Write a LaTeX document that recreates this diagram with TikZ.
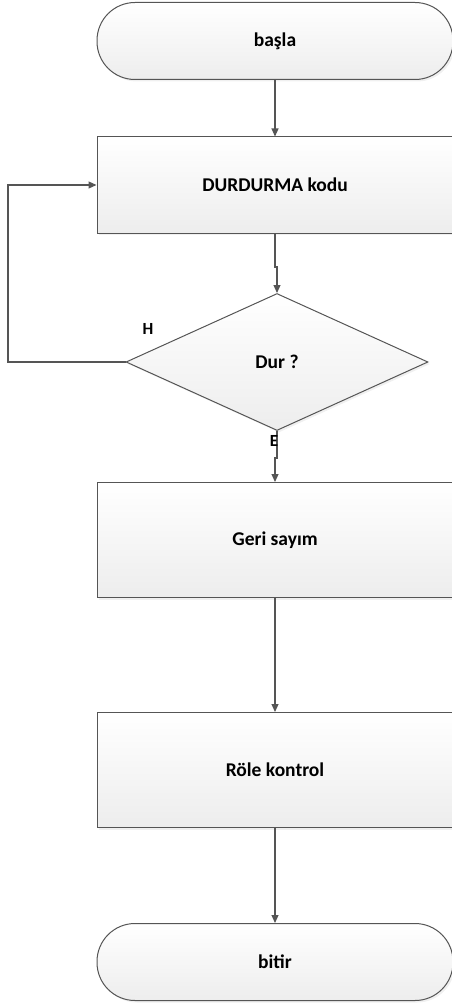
\documentclass[tikz,border=0pt]{standalone}
\usepackage{fontspec}
\setmainfont{Carlito}
\usetikzlibrary{shapes.geometric,arrows.meta,positioning,shadows}
\definecolor{Line}{HTML}{555555}
\definecolor{Shade}{HTML}{EDEDED}

\begin{document}
\begin{tikzpicture}[x=1pt,y=-1pt,
  every node/.style={font=\fontsize{19.5}{22}\selectfont\bfseries,align=center},
  boxfill/.style={draw=Line,line width=1pt,top color=white,bottom color=Shade,
    drop shadow={shadow xshift=2pt,shadow yshift=-2pt,opacity=0.12}},
  term/.style={boxfill,rectangle,rounded corners=38pt,minimum width=356pt,minimum height=77pt},
  proc/.style={boxfill,rectangle,minimum width=356pt,minimum height=96pt},
  proctall/.style={proc,minimum height=115pt},
  decide/.style={boxfill,diamond,aspect=2.2,inner sep=0pt,minimum width=302pt,minimum height=137pt},
  flow/.style={draw=Line,line width=1.1pt,-{Triangle[length=8pt,width=7pt]}},
  lbl/.style={font=\fontsize{17}{20}\selectfont\bfseries}]
  \useasboundingbox (0,0) rectangle (451,1003);
  \node[term] (start) at (275,41) {başla};
  \node[proc] (kod) at (275,185) {DURDURMA kodu};
  \node[decide] (dur) at (277,362) {Dur ?};
  \node[proctall] (geri) at (275,540) {Geri sayım};
  \node[proctall] (role) at (275,770) {Röle kontrol};
  \node[term] (bitir) at (275,962) {bitir};
  \coordinate (loop) at (8,362);
  \coordinate (jog1) at (275,267);
  \coordinate (jog2) at (277,458);
  \draw[flow] (start) -- (kod);
  \draw[flow] (kod.south) -- (jog1) -| (dur.north);
  \draw[flow] (dur.west) -- (loop) |- (kod.west);
  \draw[flow] (dur.south) -- (jog2) -| (geri.north);
  \draw[flow] (geri) -- (role);
  \draw[flow] (role) -- (bitir);
  \node[lbl] (h) at (148,329) {H};
  \node[lbl] (e) at (274,441) {E};
\end{tikzpicture}
\end{document}
